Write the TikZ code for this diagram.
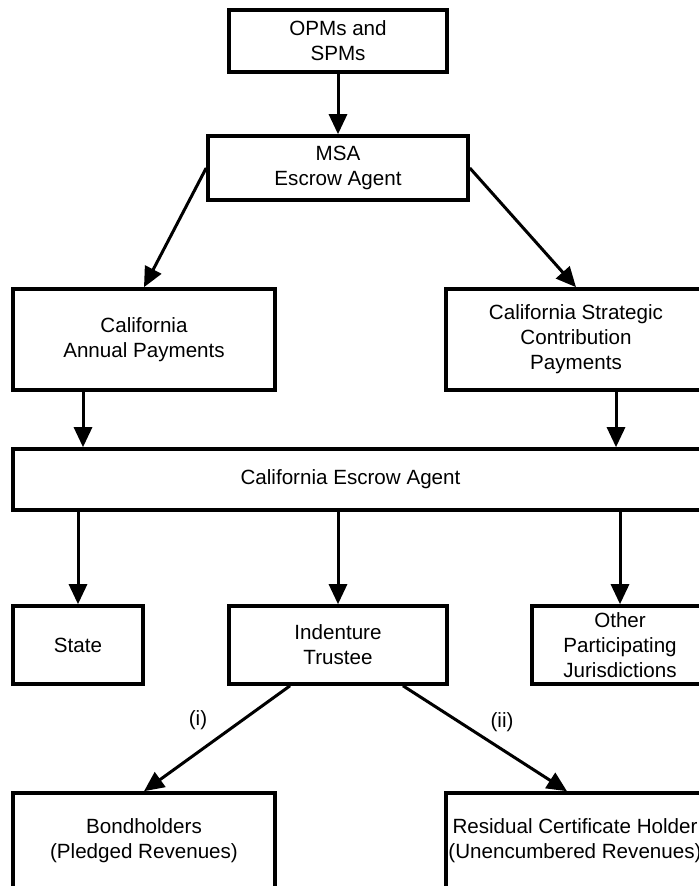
\documentclass[tikz,border=0pt]{standalone}
\usepackage{fontspec}
\setmainfont{Liberation Sans}
\usetikzlibrary{arrows.meta,calc}
\begin{document}
\begin{tikzpicture}[x=0.5pt,y=-0.5pt,
  box/.style={draw=black,line width=1.8pt,rectangle,align=center,inner sep=0pt,
    font=\fontsize{10.3}{12.5}\selectfont},
  flow/.style={line width=1.5pt,-{Triangle[length=10pt,width=9pt]}},
  lbl/.style={font=\fontsize{10.3}{12.5}\selectfont,inner sep=0pt}]
\useasboundingbox (0,0) rectangle (699,886);
\node[box,minimum width=109pt,minimum height=31pt] (opm) at (338,41) {OPMs and\\SPMs};
\node[box,minimum width=130pt,minimum height=32pt] (msa) at (338,168) {MSA\\Escrow Agent};
\node[box,minimum width=131pt,minimum height=50.5pt] (cap) at (144,339.5) {California\\Annual Payments};
\node[box,minimum width=130pt,minimum height=50.5pt] (csc) at (576,339.5) {California Strategic\\Contribution\\Payments};
\node[box,minimum width=346.5pt,minimum height=30.5pt] (esc) at (359.5,479.5) {\hspace*{-9pt}California Escrow Agent};
\node[box,minimum width=65pt,minimum height=39pt] (state) at (78,645) {State};
\node[box,minimum width=109pt,minimum height=39pt] (ind) at (338,645) {Indenture\\Trustee};
\node[box,minimum width=88pt,minimum height=39pt] (oth) at (620,645) {Other\\Participating\\Jurisdictions};
\node[box,minimum width=131pt,minimum height=47.5pt] (bond) at (144,840.5) {Bondholders\\(Pledged Revenues)};
\node[box,minimum width=129pt,minimum height=47.5pt] (res) at (575,840.5) {Residual Certificate Holder\\(Unencumbered Revenues)};
\node[lbl] (li) at (198,720) {(i)};
\node[lbl] (lii) at (502,722) {(ii)};
\draw[flow] (opm.south) -- (msa.north);
\draw[flow] (msa.west) -- (cap.north);
\draw[flow] (msa.east) -- (csc.north);
\draw[flow] ($(cap.south)+(-61,0)$) -- ($(esc.north -| cap.south)+(-61,0)$);
\draw[flow] ($(csc.south)+(40,0)$) -- ($(esc.north -| csc.south)+(40,0)$);
\draw[flow] (esc.south -| state.north) -- (state.north);
\draw[flow] (esc.south -| ind.north) -- (ind.north);
\draw[flow] (esc.south -| oth.north) -- (oth.north);
\draw[flow] ($(ind.south)+(-48,0)$) -- (bond.north);
\draw[flow] ($(ind.south)+(65,0)$) -- ($(res.north)+(-8,0)$);
\end{tikzpicture}
\end{document}
